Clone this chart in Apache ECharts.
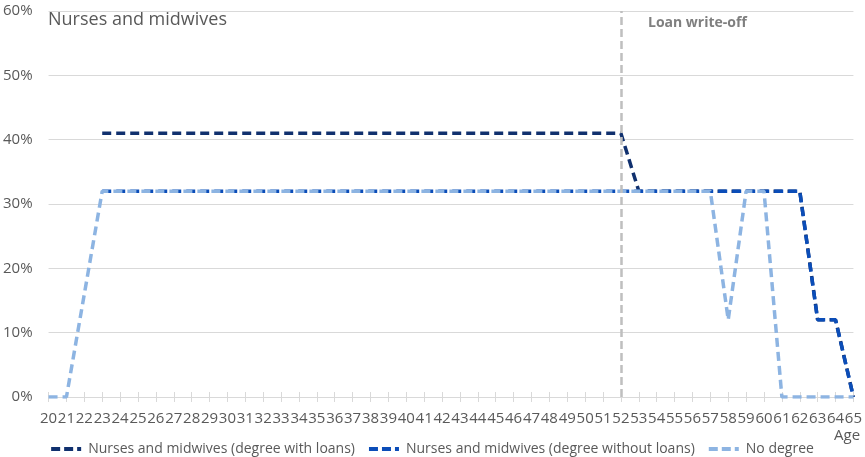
<!DOCTYPE html>
<html><head><meta charset="utf-8">
<script src="https://cdn.jsdelivr.net/npm/echarts@6/dist/echarts.min.js"></script>
<style>html,body{margin:0;padding:0;background:#fff}#c{width:865px;height:457px}</style>
</head><body><div id="c"></div>
<script>
const ages = [];
for (let a = 20; a <= 65; a++) ages.push(String(a));
// values in %
const withLoans = [null,null,null,41,41,41,41,41,41,41,41,41,41,41,41,41,41,41,41,41,41,41,41,41,41,41,41,41,41,41,41,41,41,32,32,32,32,32,32,32,32,32,32,12,12,0];
const withoutLoans = [null,null,null,32,32,32,32,32,32,32,32,32,32,32,32,32,32,32,32,32,32,32,32,32,32,32,32,32,32,32,32,32,32,32,32,32,32,32,32,32,32,32,32,12,12,0];
const noDegree = [0,0,16,32,32,32,32,32,32,32,32,32,32,32,32,32,32,32,32,32,32,32,32,32,32,32,32,32,32,32,32,32,32,32,32,32,32,32,12,32,32,0,0,0,0,0];
const yTicks = [0,10,20,30,40,50,60];
const writeOffAge = '52';
const seriesNames = ['Nurses and midwives (degree with loans)','Nurses and midwives (degree without loans)','No degree'];
const colors = ['#10306E','#0B4DB8','#8DB4E2'];
const FONT = '"Open Sans", sans-serif';

const chart = echarts.init(document.getElementById('c'));
const mk = (name, data, color, z) => ({
  name, type:'line', data, z, symbol:'none', connectNulls:false,
  lineStyle:{color, width:3.5, type:[9,5], cap:'butt'},
  itemStyle:{color}
});
chart.setOption({
  animation:false,
  grid:{left:48, right:8, top:11, bottom:60, containLabel:false},
  xAxis:[{
    type:'category', data:ages, boundaryGap:false,
    axisLine:{lineStyle:{color:'#D9D9D9', width:1}},
    axisTick:{show:true, alignWithLabel:true, length:5, lineStyle:{color:'#D9D9D9'}},
    axisLabel:{interval:0, color:'#595959', fontFamily:FONT, fontSize:15, margin:14}
  },{
    type:'category', data:ages, boundaryGap:false, position:'bottom',
    axisLine:{show:false}, axisLabel:{show:false},
    axisTick:{show:true, inside:true, length:5, lineStyle:{color:'#D9D9D9'}}
  }],
  yAxis:{
    type:'value', min:0, max:60, interval:10,
    axisLine:{show:false}, axisTick:{show:false},
    splitLine:{lineStyle:{color:'#D9D9D9'}},
    axisLabel:{formatter:v=>yTicks.includes(v)?v+'%':'', color:'#595959', fontFamily:FONT, fontSize:15, margin:16}
  },
  legend:{
    top:437, left:'center', itemGap:14, itemWidth:34, itemHeight:4,
    textStyle:{color:'#595959', fontFamily:FONT, fontSize:14},
    data:seriesNames.map((n,i)=>({name:n, icon:'path://M0,0H9V4H0Z M13,0H22V4H13Z M26,0H30V4H26Z'}))
  },
  series:[
    mk(seriesNames[0], withLoans, colors[0], 2),
    mk(seriesNames[1], withoutLoans, colors[1], 3),
    Object.assign(mk(seriesNames[2], noDegree, colors[2], 4), {
      markLine:{symbol:'none', silent:true, label:{show:false},
        lineStyle:{color:'#BFBFBF', type:[8,4], width:2.5},
        data:[{xAxis:writeOffAge}]}
    })
  ],
  graphic:[
    {type:'text', left:48, top:11, style:{text:'Nurses and midwives', fill:'#595959', font:'18px "Open Sans", sans-serif'}},
    {type:'text', left:648, top:16, style:{text:'Loan write-off', fill:'#7F7F7F', font:'bold 14px "Open Sans", sans-serif'}},
    {type:'text', left:834, top:428, style:{text:'Age', fill:'#595959', font:'15px "Open Sans", sans-serif'}}
  ]
});
</script></body></html>
